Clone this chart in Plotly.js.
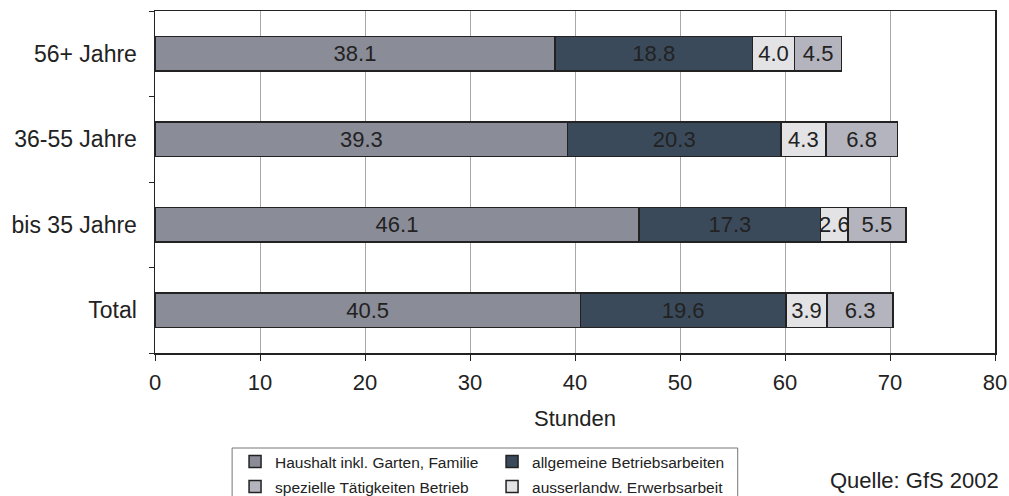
<!DOCTYPE html>
<html>
<head>
<meta charset="utf-8">
<script src="https://cdn.plot.ly/plotly-3.0.1.min.js"></script>
<style>html,body{margin:0;padding:0;background:#fff;}#chart{width:1009px;height:496px;}</style>
</head>
<body>
<div id="chart"></div>
<script>
const categories = ["Total", "bis 35 Jahre", "36-55 Jahre", "56+ Jahre"];
const haushalt = [40.5, 46.1, 39.3, 38.1];
const allgemeine = [19.6, 17.3, 20.3, 18.8];
const ausserlandw = [3.9, 2.6, 4.3, 4.0];
const spezielle = [6.3, 5.5, 6.8, 4.5];
const xTicks = [0, 10, 20, 30, 40, 50, 60, 70, 80];

const FONT = "'Liberation Sans', Arial, sans-serif";
function fmt(a) { return a.map(v => v.toFixed(1)); }
function barTrace(name, vals, color, legend, rank) {
  return {
    type: 'bar', orientation: 'h', name: name,
    x: vals, y: categories,
    text: fmt(vals), textposition: 'inside', insidetextanchor: 'middle',
    textangle: 0, constraintext: 'none', cliponaxis: false,
    textfont: {family: FONT, size: 22, color: '#222'},
    marker: {color: color, line: {color: '#222', width: 1.5}},
    legend: legend, legendrank: rank, hoverinfo: 'skip'
  };
}
const data = [
  barTrace('Haushalt inkl. Garten, Familie', haushalt, '#8a8c98', 'legend', 1),
  barTrace('allgemeine Betriebsarbeiten', allgemeine, '#3a4a5a', 'legend', 2),
  barTrace('ausserlandw. Erwerbsarbeit', ausserlandw, '#e3e3e6', 'legend2', 4),
  barTrace('spezielle Tätigkeiten Betrieb', spezielle, '#b3b4bd', 'legend2', 3)
];
const legCommon = {
  orientation: 'h', xanchor: 'left', yanchor: 'top', x: 0.0953,
  entrywidth: 212, entrywidthmode: 'pixels', borderwidth: 0,
  bgcolor: 'rgba(0,0,0,0)', font: {family: FONT, size: 15.5, color: '#222'},
  traceorder: 'normal'
};
const layout = {
  width: 1009, height: 496,
  margin: {l: 155, r: 14, t: 11, b: 143, autoexpand: false},
  paper_bgcolor: '#fff', plot_bgcolor: '#fff',
  barmode: 'stack', bargap: 0.6,
  font: {family: FONT, size: 22, color: '#222'},
  showlegend: true,
  legend: Object.assign({}, legCommon, {y: -0.2690}),
  legend2: Object.assign({}, legCommon, {y: -0.3421}),
  xaxis: {
    range: [0, 80], tickvals: xTicks, ticktext: xTicks.map(String),
    showgrid: true, gridcolor: '#a8a8a8', gridwidth: 1,
    zeroline: false, showline: true, linecolor: '#222', linewidth: 1.5, mirror: true,
    ticks: 'outside', ticklen: 6, tickcolor: '#222', ticklabelstandoff: 3,
    tickfont: {family: FONT, size: 22, color: '#222'},
    title: {text: 'Stunden', font: {family: FONT, size: 22, color: '#222'}, standoff: 16}
  },
  yaxis: {
    type: 'category', categoryorder: 'array', categoryarray: categories,
    showgrid: false, zeroline: false, showline: true, linecolor: '#222', linewidth: 1.5, mirror: true,
    ticks: 'outside', tickson: 'boundaries', ticklen: 5, tickcolor: '#222',
    tickfont: {family: FONT, size: 23, color: '#222'}, ticklabelstandoff: 12
  },
  shapes: [{
    type: 'rect', xref: 'paper', yref: 'paper',
    x0: 0.0918, x1: 0.6937, y0: -0.2778, y1: -0.47,
    line: {color: '#777', width: 1}, fillcolor: 'rgba(0,0,0,0)'
  }],
  annotations: [{
    text: 'Quelle: GfS 2002', xref: 'paper', yref: 'paper',
    x: 1.007, y: -0.3304, xanchor: 'right', yanchor: 'top', showarrow: false,
    font: {family: FONT, size: 22, color: '#222'}
  }]
};
Plotly.newPlot('chart', data, layout, {displayModeBar: false, staticPlot: true});
</script>
</body>
</html>
